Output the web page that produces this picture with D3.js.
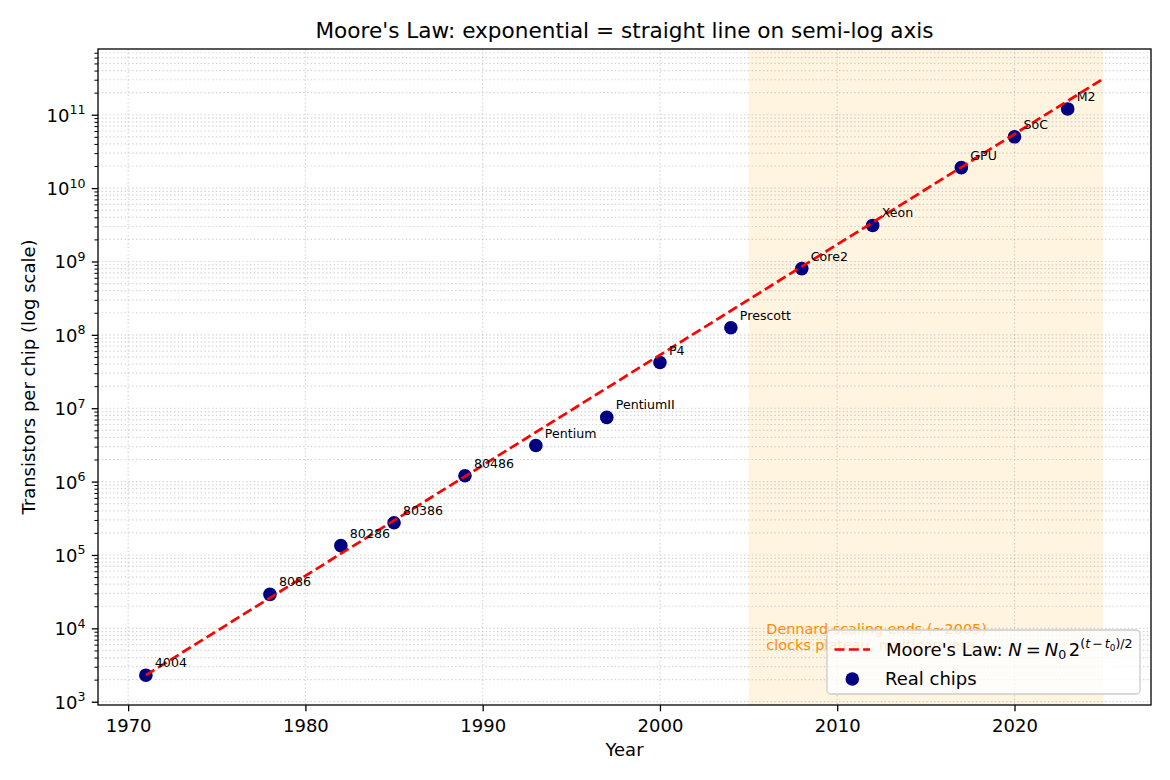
<!DOCTYPE html>
<html>
<head>
<meta charset="utf-8">
<script src="https://cdn.jsdelivr.net/npm/d3@7"></script>
<style>
  html, body { margin: 0; padding: 0; background: #ffffff; }
  svg text { font-family: "DejaVu Sans", sans-serif; }
</style>
</head>
<body>
<svg id="chart" width="1170" height="780"></svg>
<script>
// ---------------- data ----------------
const chipNames = ["4004", "8086", "80286", "80386", "80486", "Pentium", "PentiumII", "P4", "Prescott", "Core2", "Xeon", "GPU", "SoC", "M2"];
const chipYears = [1971, 1978, 1982, 1985, 1989, 1993, 1997, 2000, 2004, 2008, 2012, 2017, 2020, 2023];
const chipTransistors = [2300, 29000, 134000, 275000, 1.2e6, 3.1e6, 7.5e6, 4.2e7, 1.25e8, 8.0e8, 3.1e9, 1.9e10, 5.0e10, 1.2e11];

// Moore's-law trend line (straight on the semi-log axis), end points
const trendYears = [1971, 2025];
const trendValues = [2300, 3.087e11];

// Dennard-scaling shaded era
const spanYears = [2005, 2025];
const annotationLines = ["Dennard scaling ends (~2005)", "clocks plateau, multicore era"];
const annotationAnchor = [2006, 5000];

const xTickValues = [1970, 1980, 1990, 2000, 2010, 2020];
const yTickExponents = [3, 4, 5, 6, 7, 8, 9, 10, 11];

const titleText = "Moore's Law: exponential = straight line on semi-log axis";
const xLabelText = "Year";
const yLabelText = "Transistors per chip (log scale)";

// ---------------- layout ----------------
const W = 1170, H = 780;
const plot = { left: 98, right: 1151, top: 49, bottom: 705 };

const svg = d3.select("#chart");

// domains with 5% padding (matplotlib-like)
const allX = chipYears.concat(trendYears);
const xMin = d3.min(allX), xMax = d3.max(allX);
const xPad = (xMax - xMin) * 0.05;
const allY = chipTransistors.concat(trendValues).map(v => Math.log10(v));
const lyMin = d3.min(allY), lyMax = d3.max(allY);
const lyPad = (lyMax - lyMin) * 0.05;

const x = d3.scaleLinear().domain([xMin - xPad, xMax + xPad]).range([plot.left, plot.right]);
const y = d3.scaleLog().domain([Math.pow(10, lyMin - lyPad), Math.pow(10, lyMax + lyPad)]).range([plot.bottom, plot.top]);

// clip
svg.append("defs").append("clipPath").attr("id", "clip")
  .append("rect").attr("x", plot.left).attr("y", plot.top)
  .attr("width", plot.right - plot.left).attr("height", plot.bottom - plot.top);

const inner = svg.append("g").attr("clip-path", "url(#clip)");

// shaded span
inner.append("rect")
  .attr("x", x(spanYears[0])).attr("y", plot.top)
  .attr("width", x(spanYears[1]) - x(spanYears[0]))
  .attr("height", plot.bottom - plot.top)
  .attr("fill", "orange").attr("fill-opacity", 0.12);

// grid
const [yd0, yd1] = y.domain();
const minorY = [];
for (let e = Math.floor(Math.log10(yd0)); e <= Math.ceil(Math.log10(yd1)); e++) {
  for (let m = 1; m <= 9; m++) {
    const v = m * Math.pow(10, e);
    if (v >= yd0 && v <= yd1) minorY.push(v);
  }
}
const grid = inner.append("g");
grid.selectAll("line.gy").data(minorY).enter().append("line")
  .attr("x1", plot.left).attr("x2", plot.right)
  .attr("y1", d => y(d)).attr("y2", d => y(d))
  .attr("stroke", "#b0b0b0").attr("stroke-opacity", 0.55)
  .attr("stroke-width", 1.2).attr("stroke-dasharray", "1.4,2.4");
grid.selectAll("line.gx").data(xTickValues).enter().append("line")
  .attr("y1", plot.top).attr("y2", plot.bottom)
  .attr("x1", d => x(d)).attr("x2", d => x(d))
  .attr("stroke", "#b0b0b0").attr("stroke-opacity", 0.55)
  .attr("stroke-width", 1.2).attr("stroke-dasharray", "1.4,2.4");

// scatter
inner.selectAll("circle.chip").data(chipYears).enter().append("circle")
  .attr("cx", (d) => x(d))
  .attr("cy", (d, i) => y(chipTransistors[i]))
  .attr("r", 6.8)
  .attr("fill", "#000080");

// trend line
const line = d3.line().x(d => x(d[0])).y(d => y(d[1]));
inner.append("path")
  .datum(trendYears.map((t, i) => [t, trendValues[i]]))
  .attr("d", line)
  .attr("fill", "none").attr("stroke", "#ff0000")
  .attr("stroke-width", 2.7).attr("stroke-dasharray", "10,4.3");

// chip labels
inner.selectAll("text.lab").data(chipNames).enter().append("text")
  .attr("x", (d, i) => x(chipYears[i]) + 9)
  .attr("y", (d, i) => y(chipTransistors[i]) - 8)
  .attr("font-size", 12.6).attr("fill", "#000")
  .text(d => d);

// annotation
const ann = inner.append("text")
  .attr("font-size", 14.4).attr("fill", "#ff8c00");
annotationLines.forEach((t, i) => {
  ann.append("tspan")
    .attr("x", x(annotationAnchor[0]))
    .attr("y", y(annotationAnchor[1]) - (annotationLines.length - 1 - i) * 16.5)
    .text(t);
});

// axes spines
const axesG = svg.append("g");
axesG.append("rect")
  .attr("x", plot.left).attr("y", plot.top)
  .attr("width", plot.right - plot.left).attr("height", plot.bottom - plot.top)
  .attr("fill", "none").attr("stroke", "#000").attr("stroke-width", 1.3);

// x axis ticks
const xAxis = d3.axisBottom(x).tickValues(xTickValues).tickSize(6.3).tickPadding(6.3).tickFormat(d3.format("d"));
const gx = svg.append("g").attr("transform", `translate(0,${plot.bottom})`).call(xAxis);
gx.select(".domain").remove();
gx.selectAll(".tick line").attr("stroke", "#000").attr("stroke-width", 1.3);
gx.selectAll(".tick text").attr("font-size", 18).attr("font-family", "DejaVu Sans").attr("fill", "#000")
  .attr("dy", "0.78em");

// y axis: minor ticks
const yMinorOnly = minorY.filter(v => Math.abs(Math.log10(v) - Math.round(Math.log10(v))) > 1e-9);
const yAxisMinor = d3.axisLeft(y).tickValues(yMinorOnly).tickSize(3.6).tickFormat("");
const gyMinor = svg.append("g").attr("transform", `translate(${plot.left},0)`).call(yAxisMinor);
gyMinor.select(".domain").remove();
gyMinor.selectAll(".tick line").attr("stroke", "#000").attr("stroke-width", 1);

// y axis: major ticks
const yMajor = yTickExponents.map(e => Math.pow(10, e));
const yAxisMajor = d3.axisLeft(y).tickValues(yMajor).tickSize(6.3).tickPadding(6.3).tickFormat("");
const gy = svg.append("g").attr("transform", `translate(${plot.left},0)`).call(yAxisMajor);
gy.select(".domain").remove();
gy.selectAll(".tick line").attr("stroke", "#000").attr("stroke-width", 1.3);
gy.selectAll(".tick").each(function(d, i) {
  const t = d3.select(this).append("text")
    .attr("x", -12.6).attr("y", 6.5)
    .attr("text-anchor", "end").attr("font-size", 18).attr("fill", "#000")
    .attr("font-family", "DejaVu Sans");
  t.append("tspan").text("10");
  t.append("tspan").attr("dy", -7.5).attr("font-size", 12.6).text(yTickExponents[i]);
});

// labels and title
svg.append("text").attr("x", (plot.left + plot.right) / 2).attr("y", 38)
  .attr("text-anchor", "middle").attr("font-size", 21.6).attr("fill", "#000").text(titleText);
svg.append("text").attr("x", (plot.left + plot.right) / 2).attr("y", 756)
  .attr("text-anchor", "middle").attr("font-size", 18).attr("fill", "#000").text(xLabelText);
svg.append("text")
  .attr("transform", `translate(35,${(plot.top + plot.bottom) / 2}) rotate(-90)`)
  .attr("text-anchor", "middle").attr("font-size", 18).attr("fill", "#000").text(yLabelText);

// legend
const leg = svg.append("g");
const lx = 827, ly = 630, lw = 313, lh = 64;
leg.append("rect").attr("x", lx).attr("y", ly).attr("width", lw).attr("height", lh)
  .attr("rx", 4).attr("ry", 4)
  .attr("fill", "#ffffff").attr("fill-opacity", 0.8)
  .attr("stroke", "#cccccc").attr("stroke-width", 1.3);
leg.append("line").attr("x1", lx + 7.5).attr("x2", lx + 43).attr("y1", ly + 19.5).attr("y2", ly + 19.5)
  .attr("stroke", "#ff0000").attr("stroke-width", 2.7).attr("stroke-dasharray", "10,4.3");
leg.append("circle").attr("cx", lx + 25.3).attr("cy", ly + 49).attr("r", 6.8).attr("fill", "#000080");

const lt = leg.append("text").attr("x", lx + 59).attr("y", ly + 26).attr("font-size", 18).attr("fill", "#000");
lt.append("tspan").text("Moore's Law: ");
lt.append("tspan").attr("font-style", "italic").text("N");
lt.append("tspan").attr("dx", 4).text("=");
lt.append("tspan").attr("dx", 4).attr("font-style", "italic").text("N");
lt.append("tspan").attr("dy", 3).attr("font-size", 12.6).text("0");
lt.append("tspan").attr("dy", -3).attr("dx", 2.5).text("2");
lt.append("tspan").attr("dy", -8).attr("font-size", 12.6).text("(");
lt.append("tspan").attr("font-size", 12.6).attr("font-style", "italic").text("t");
lt.append("tspan").attr("font-size", 12.6).attr("dx", 2).text("\u2212");
lt.append("tspan").attr("font-size", 12.6).attr("dx", 2).attr("font-style", "italic").text("t");
lt.append("tspan").attr("font-size", 9).attr("dy", 2.5).text("0");
lt.append("tspan").attr("font-size", 12.6).attr("dy", -2.5).text(")/2");

leg.append("text").attr("x", lx + 58).attr("y", ly + 54.5).attr("font-size", 18).attr("fill", "#000").text("Real chips");
</script>
</body>
</html>
